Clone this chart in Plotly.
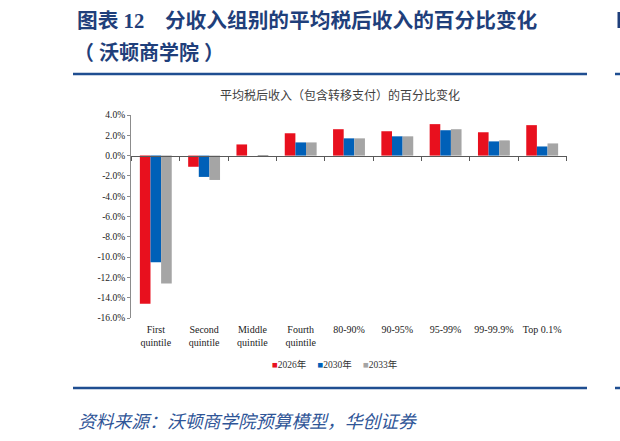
import plotly.graph_objects as go

categories = ["First<br>quintile", "Second<br>quintile", "Middle<br>quintile", "Fourth<br>quintile",
              "80-90%", "90-95%", "95-99%", "99-99.9%", "Top 0.1%"]
series_names = ["2026年", "2030年", "2033年"]
values_2026 = [-14.6, -1.1, 1.1, 2.2, 2.6, 2.4, 3.1, 2.3, 3.0]
values_2030 = [-10.5, -2.1, 0.0, 1.3, 1.7, 1.9, 2.5, 1.4, 0.9]
values_2033 = [-12.6, -2.4, -0.1, 1.3, 1.7, 1.9, 2.6, 1.5, 1.2]
colors = ["#E8101E", "#0060B8", "#A5A5A5"]
y_tick_vals = [4, 2, 0, -2, -4, -6, -8, -10, -12, -14, -16]
y_tick_text = ["4.0%", "2.0%", "0.0%", "-2.0%", "-4.0%", "-6.0%", "-8.0%", "-10.0%", "-12.0%", "-14.0%", "-16.0%"]

W, H = 620, 441
L, R, T, B = 131, 53, 115, 123
PW, PH = W - L - R, H - T - B


def px(x):
    return (x - L) / PW


def py(y):
    return (H - B - y) / PH


serif = "Liberation Serif, Times New Roman, Noto Sans CJK SC, serif"
cjk = "Noto Sans CJK SC, sans-serif"
title_font = "Liberation Serif, Noto Sans CJK SC, serif"
navy = "#1F3F7B"
clear = "rgba(0,0,0,0)"

fig = go.Figure()
for name, vals, col in zip(series_names, [values_2026, values_2030, values_2033], colors):
    fig.add_trace(go.Bar(x=categories, y=vals, name=name, marker=dict(color=col, line=dict(width=0)),
                         showlegend=False))
    fig.add_trace(go.Scatter(x=[None], y=[None], mode="markers",
                             name=f"<span style='color:{col}'>■</span>{name}",
                             marker=dict(symbol="square", size=1, color=clear, line=dict(width=0))))
# spacer entry so the last legend label is not clipped
fig.add_trace(go.Scatter(x=[None], y=[None], mode="markers", name=" ",
                         marker=dict(size=1, color=clear, line=dict(width=0))))

# helper trace for the zero-line category axis
fig.add_trace(go.Scatter(x=categories, y=[0] * len(categories), mode="markers", xaxis="x2",
                         marker=dict(opacity=0, size=1), showlegend=False, hoverinfo="skip"))

fig.update_layout(
    width=W, height=H,
    margin=dict(l=L, r=R, t=T, b=B, pad=0),
    paper_bgcolor="white", plot_bgcolor="white",
    barmode="group", bargap=0.34, bargroupgap=0,
    showlegend=True,
    legend=dict(orientation="h", x=px(232), y=py(364), xanchor="left", yanchor="middle",
                font=dict(family=serif, size=9.5, color="#333333"),
                itemwidth=30, entrywidth=0.5, tracegroupgap=0, bgcolor=clear),
    xaxis=dict(type="category", showline=False, ticks="", showgrid=False,
               tickfont=dict(family=serif, size=10, color="#222222"), ticklabelstandoff=4),
    xaxis2=dict(type="category", overlaying="x", matches="x", anchor="free", position=0.8,
                side="bottom", showline=True, linecolor="#595959", linewidth=1,
                ticks="outside", ticklen=4, tickcolor="#595959", tickson="boundaries",
                showticklabels=False, showgrid=False),
    yaxis=dict(range=[-16, 4], tickvals=y_tick_vals, ticktext=y_tick_text,
               showline=True, linecolor="#8C8C8C", linewidth=1, ticks="outside", ticklen=3,
               tickcolor="#8C8C8C", showgrid=False, zeroline=False,
               tickfont=dict(family=serif, size=9.5, color="#222222")),
    font=dict(family=serif),
)

annotations = [
    dict(text="<b>图表 12　分收入组别的平均税后收入的百分比变化</b>", x=px(75), y=py(21),
         xanchor="left", yanchor="middle", font=dict(family=title_font, size=20.7, color=navy)),
    dict(text="<b>（ 沃顿商学院 ）</b>", x=px(72), y=py(52),
         xanchor="left", yanchor="middle", font=dict(family=title_font, size=20, color=navy)),
    dict(text="平均税后收入（包含转移支付）的百分比变化", x=px(340), y=py(94),
         xanchor="center", yanchor="middle", font=dict(family=cjk, size=12, color="#404040")),
    dict(text="<i>资料来源：沃顿商学院预算模型，华创证券</i>", x=px(76), y=py(420),
         xanchor="left", yanchor="middle", font=dict(family=cjk, size=17.8, color="#2F5597")),
]
for a in annotations:
    a.update(xref="paper", yref="paper", showarrow=False)
fig.update_layout(annotations=annotations)

for y0 in (74, 388):
    fig.add_shape(type="line", xref="paper", yref="paper", x0=px(73), x1=px(587), y0=py(y0), y1=py(y0),
                  line=dict(color="#1F4E91", width=2.5))
    fig.add_shape(type="line", xref="paper", yref="paper", x0=px(615), x1=px(625), y0=py(y0), y1=py(y0),
                  line=dict(color="#1F4E91", width=2.5))
# fragment of the neighbouring page's heading at the right edge
fig.add_shape(type="rect", xref="paper", yref="paper", x0=px(617.5), x1=px(621), y0=py(12), y1=py(28),
              line=dict(width=0), fillcolor=navy)

fig.write_html("out.html", config={"displayModeBar": False},
               post_script="document.body.style.margin='0';document.body.style.overflow='hidden';")
